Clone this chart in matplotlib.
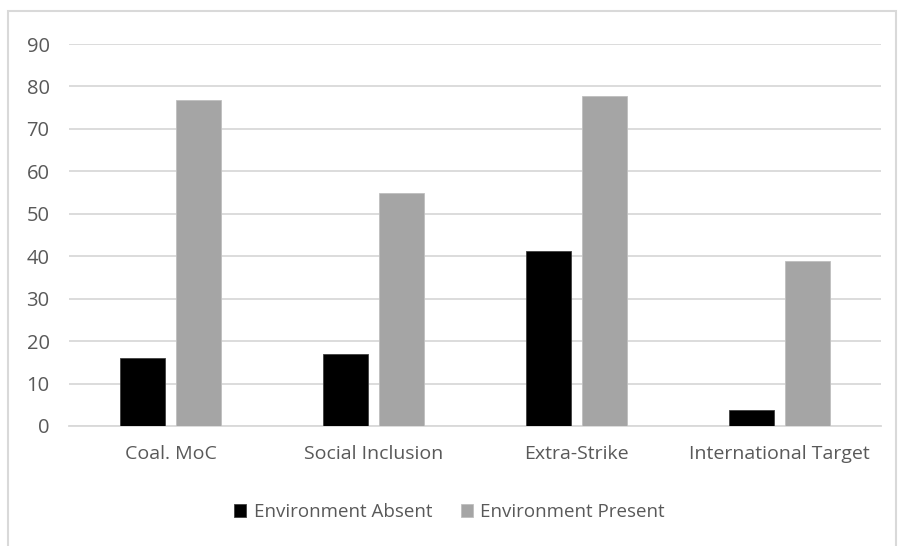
import matplotlib.pyplot as plt
import numpy as np
from matplotlib.patches import Rectangle

# data
categories = ['Coal. MoC', 'Social Inclusion', 'Extra-Strike', 'International Target']
envAbsent = [16, 17, 41.3, 3.8]
envPresent = [76.7, 55, 77.8, 38.8]

plt.rcParams['font.family'] = ['Open Sans', 'DejaVu Sans']
textColor = '#595959'
gridColor = '#d9d9d9'

fig = plt.figure(figsize=(8.99, 5.46), dpi=100, facecolor='w')
ax = fig.add_axes([0.0768, 0.2198, 0.9032, 0.6996])

x = np.arange(len(categories))
w = 0.222
off = 0.138
ax.bar(x - off, envAbsent, w, color='black', edgecolor='#404040', linewidth=0.6,
       label='Environment Absent', zorder=3)
ax.bar(x + off, envPresent, w, color='#a5a5a5', edgecolor='#bfbfbf', linewidth=0.6,
       label='Environment Present', zorder=3)

ax.set_xlim(-0.5, len(categories) - 0.5)
ax.set_ylim(0, 90)
ax.set_yticks(np.arange(0, 91, 10))
ax.yaxis.grid(True, color=gridColor, linewidth=1.3, zorder=0)
ax.set_axisbelow(True)
for s in ['top', 'right', 'left']:
  ax.spines[s].set_visible(False)
ax.spines['bottom'].set_color(gridColor)
ax.spines['bottom'].set_linewidth(1.3)
ax.tick_params(axis='both', length=0, colors=textColor, labelsize=14)
ax.tick_params(axis='y', pad=14, labelsize=14.5)
ax.tick_params(axis='x', pad=14)
ax.set_xticks(x)
ax.set_xticklabels(categories)

leg = fig.legend(loc='center', bbox_to_anchor=(0.5, 1 - 512 / 546), ncol=2, frameon=False,
                 fontsize=13.5, handlelength=0.65, handleheight=0.65, handletextpad=0.4,
                 columnspacing=1.5)
for t in leg.get_texts():
  t.set_color(textColor)

# outer chart border
fig.patches.append(Rectangle((8 / 899, -0.02), 888 / 899, 1.02 - 11 / 546,
                             transform=fig.transFigure, fill=False,
                             edgecolor=gridColor, linewidth=1.5))

fig.savefig('out.png', dpi=100, facecolor='w')
